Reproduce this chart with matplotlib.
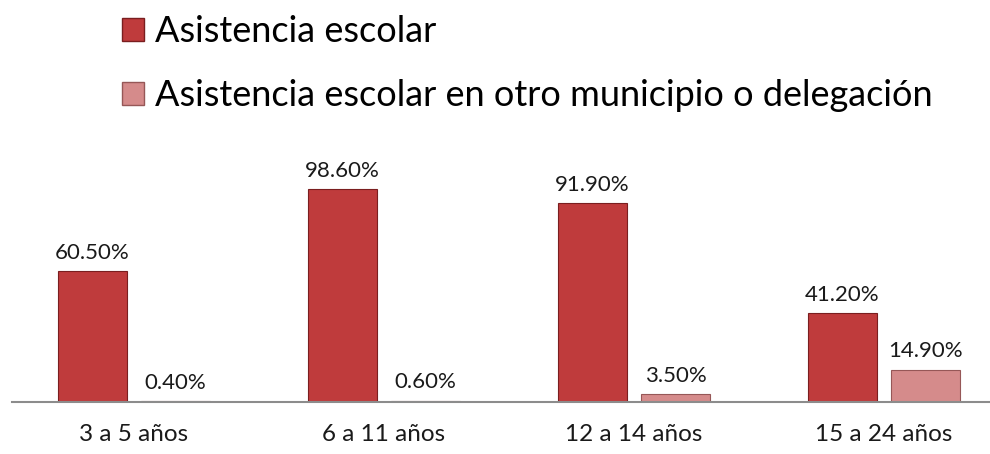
"""Asistencia escolar por grupo de edad."""

import numpy as np
import matplotlib
matplotlib.use("Agg")
import matplotlib.pyplot as plt
from matplotlib.patches import Patch

plt.rcParams["font.family"] = ["Lato", "DejaVu Sans"]

# Data
categories = ["3 a 5 años", "6 a 11 años", "12 a 14 años", "15 a 24 años"]
series_names = [
    "Asistencia escolar",
    "Asistencia escolar en otro municipio o delegación",
]
asistencia = [60.5, 98.6, 91.9, 41.2]
otro_municipio = [0.4, 0.6, 3.5, 14.9]

red = "#BF3B3C"
red_edge = "#7A1E1F"
pink = "#D58B8B"
pink_edge = "#965757"

fig = plt.figure(figsize=(9.9, 4.54), dpi=100)
ax = fig.add_axes([12 / 990, 1 - 402 / 454, 978 / 990, 216 / 454])

x = np.arange(len(categories))
width = 0.276
offset = 0.332

b1 = ax.bar(x, asistencia, width, color=red, edgecolor=red_edge, linewidth=0.8)
b2 = ax.bar(x + offset, otro_municipio, width, color=pink,
            edgecolor=pink_edge, linewidth=0.8)

for bars, vals in ((b1, asistencia), (b2, otro_municipio)):
    for bar, v in zip(bars, vals):
        ax.annotate(f"{v:.2f}%", (bar.get_x() + bar.get_width() / 2, v),
                    xytext=(0, 6), textcoords="offset points",
                    ha="center", va="bottom", fontsize=16, color="#1a1a1a",
                    annotation_clip=False)

ax.set_xlim(-0.322, 3.59)
ax.set_ylim(0, 100)
ax.set_xticks(x + offset / 2)
ax.set_xticklabels(categories, fontsize=17.5, color="#1a1a1a")
ax.tick_params(axis="x", length=0, pad=16)
ax.set_yticks([])
for side in ("top", "left", "right"):
    ax.spines[side].set_visible(False)
ax.spines["bottom"].set_color("#8C8C8C")
ax.spines["bottom"].set_linewidth(1.5)

handles = [Patch(facecolor=red, edgecolor=red_edge),
           Patch(facecolor=pink, edgecolor=pink_edge)]
fig.legend(handles, series_names, loc="upper left",
           bbox_to_anchor=(122 / 990, 1 - 15 / 454), frameon=False,
           fontsize=26, handlelength=0.62, handleheight=0.62,
           handletextpad=0.3, labelspacing=0.86, borderpad=0,
           borderaxespad=0)

fig.savefig("out.png", dpi=100)
